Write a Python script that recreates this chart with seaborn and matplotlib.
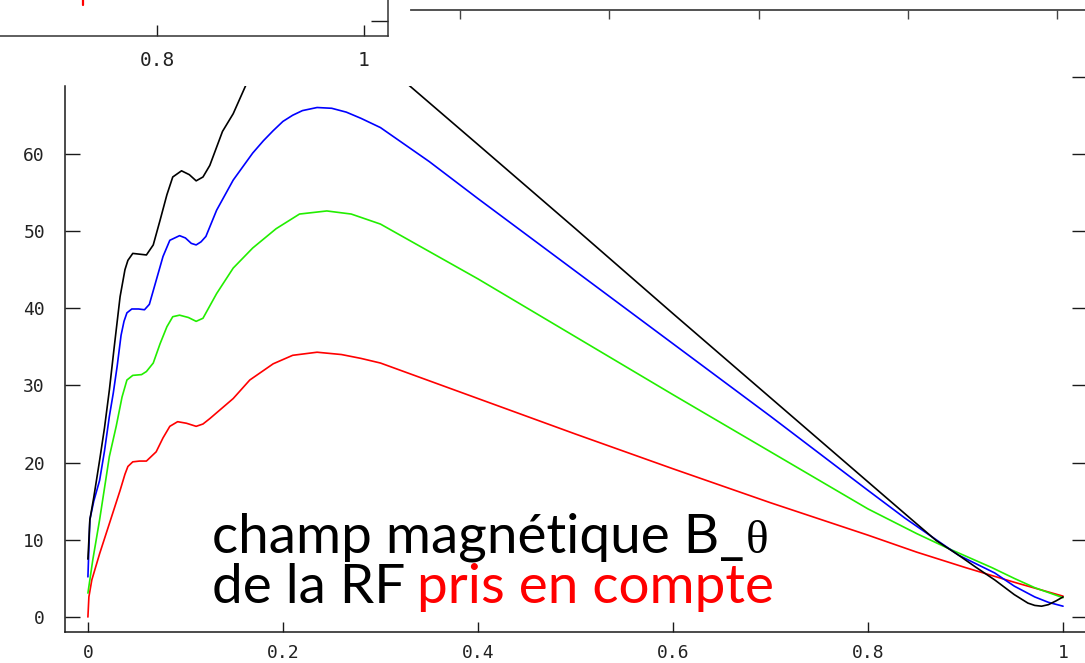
import numpy as np
import pandas as pd
import matplotlib
matplotlib.use("Agg")
import matplotlib.pyplot as plt
import seaborn as sns
from matplotlib.patches import Rectangle
from matplotlib.lines import Line2D

# Normalised radius r and azimuthal field B_theta for four RF cases
r_red = [0.000, 0.001, 0.004, 0.012, 0.022, 0.033, 0.038, 0.041, 0.046, 0.053, 0.060, 0.070,
         0.077, 0.084, 0.092, 0.101, 0.111, 0.118, 0.125, 0.137, 0.149, 0.166, 0.190, 0.210,
         0.235, 0.260, 0.280, 0.300, 0.400, 0.500, 0.600, 0.700, 0.800, 0.850, 0.900, 0.950,
         1.000]
b_red = [0.0, 2.6, 4.8, 8.2, 12.1, 16.4, 18.5, 19.5, 20.1, 20.2, 20.2, 21.4,
         23.2, 24.7, 25.3, 25.1, 24.7, 25.0, 25.7, 27.0, 28.3, 30.7, 32.8, 33.9,
         34.3, 34.0, 33.5, 32.9, 28.3, 23.7, 19.2, 14.8, 10.6, 8.4, 6.4, 4.5,
         2.7]

r_green = [0.000, 0.005, 0.012, 0.022, 0.029, 0.035, 0.040, 0.046, 0.055, 0.060, 0.067, 0.074,
           0.081, 0.087, 0.094, 0.103, 0.111, 0.118, 0.132, 0.149, 0.169, 0.193, 0.217, 0.245,
           0.270, 0.300, 0.400, 0.500, 0.600, 0.700, 0.750, 0.800, 0.850, 0.882, 0.927, 0.950,
           0.971, 1.000]
b_green = [3.1, 7.4, 12.6, 20.8, 24.7, 28.5, 30.7, 31.3, 31.4, 31.8, 32.9, 35.4,
           37.6, 38.9, 39.1, 38.8, 38.3, 38.7, 41.9, 45.2, 47.8, 50.3, 52.2, 52.6,
           52.2, 50.9, 43.8, 36.3, 28.8, 21.4, 17.7, 14.0, 10.8, 8.9, 6.4, 5.0,
           3.8, 2.5]

r_blue = [0.000, 0.002, 0.006, 0.012, 0.017, 0.022, 0.026, 0.030, 0.034, 0.037, 0.040, 0.045,
          0.052, 0.058, 0.063, 0.070, 0.077, 0.084, 0.094, 0.100, 0.106, 0.111, 0.116, 0.121,
          0.132, 0.149, 0.169, 0.180, 0.190, 0.200, 0.210, 0.220, 0.235, 0.250, 0.265, 0.280,
          0.300, 0.350, 0.400, 0.500, 0.600, 0.700, 0.800, 0.838, 0.870, 0.893, 0.930, 0.950,
          0.971, 0.985, 1.000]
b_blue = [5.2, 12.6, 15.0, 17.7, 21.5, 26.0, 29.0, 32.5, 36.5, 38.3, 39.4, 39.9,
          39.9, 39.8, 40.5, 43.6, 46.7, 48.8, 49.4, 49.1, 48.4, 48.2, 48.6, 49.3,
          52.7, 56.6, 60.1, 61.7, 63.0, 64.2, 65.0, 65.6, 66.0, 65.9, 65.4, 64.6,
          63.4, 59.0, 54.2, 44.8, 35.4, 26.0, 16.4, 12.8, 10.0, 8.0, 5.7, 4.0,
          2.6, 1.9, 1.4]

r_black = [0.000, 0.001, 0.002, 0.006, 0.012, 0.017, 0.022, 0.027, 0.033, 0.038, 0.041, 0.046,
           0.053, 0.060, 0.067, 0.074, 0.081, 0.087, 0.096, 0.104, 0.111, 0.118, 0.125, 0.138,
           0.149, 0.162, 0.200, 0.235, 0.270, 0.330, 0.400, 0.500, 0.600, 0.700, 0.800, 0.845,
           0.870, 0.893, 0.910, 0.930, 0.950, 0.964, 0.971, 0.978, 0.985, 0.993, 1.000]
b_black = [7.5, 10.0, 12.6, 15.5, 20.3, 24.5, 29.4, 35.0, 41.5, 45.0, 46.2, 47.1,
           47.0, 46.9, 48.2, 51.4, 54.7, 57.0, 57.8, 57.3, 56.5, 57.0, 58.5, 62.9,
           65.2, 68.9, 74.5, 76.5, 75.2, 68.8, 61.2, 50.3, 39.3, 28.4, 17.5, 12.6,
           9.9, 8.0, 6.5, 4.8, 2.9, 1.8, 1.5, 1.4, 1.6, 2.1, 2.6]

series_names = ["red", "green", "blue", "black"]
series_colors = ["#ff0000", "#22ee00", "#0000ff", "#000000"]

x_ticks = [0, 0.2, 0.4, 0.6, 0.8, 1.0]
x_tick_labels = ["0", "0.2", "0.4", "0.6", "0.8", "1"]
y_ticks = [0, 10, 20, 30, 40, 50, 60]
y_tick_labels = ["0", "10", "20", "30", "40", "50", "60"]
y_ticks_right = [0, 10, 20, 30, 40, 50, 60, 70]

# neighbouring panels (only their edges show)
ul_ticks = [0.8, 1.0]
ul_tick_labels = ["0.8", "1"]
ur_ticks = [0.2, 0.4, 0.6, 0.8, 1.0]

frames = []
for name, rr, bb in zip(series_names,
                        [r_red, r_green, r_blue, r_black],
                        [b_red, b_green, b_blue, b_black]):
    frames.append(pd.DataFrame({"r": rr, "B": bb, "serie": name}))
df = pd.concat(frames, ignore_index=True)

sns.set_theme(style="ticks")
plt.rcParams["font.family"] = ["DejaVu Sans"]

W, H = 1085, 663
fig = plt.figure(figsize=(W / 100, H / 100), dpi=100)
fig.patch.set_facecolor("white")


def px_axes(left, top, right, bottom):
    return fig.add_axes([left / W, 1 - bottom / H, (right - left) / W, (bottom - top) / H])


axis_col = "#1a1a1a"
tick_font = dict(family="DejaVu Sans Mono", size=13, color="#222222")

# ---------- main panel ----------
ax = px_axes(65, 72, 1088, 632)
ax.set_facecolor("none")
sns.lineplot(data=df, x="r", y="B", hue="serie", hue_order=series_names,
             palette=dict(zip(series_names, series_colors)), sort=False,
             estimator=None, legend=False, linewidth=1.2, ax=ax)
ax.set_xlim(-0.0235, 1.0256)
ax.set_ylim(-1.943, 70.6)
top_clip = 68.78
for ln in ax.lines:
    ln.set_clip_path(Rectangle((-0.1, -5), 1.3, top_clip + 5, transform=ax.transData))

ax.set_xlabel("")
ax.set_ylabel("")
ax.set_xticks(x_ticks)
ax.set_xticklabels(x_tick_labels, fontdict=tick_font)
ax.set_yticks(y_ticks)
ax.set_yticklabels(y_tick_labels, fontdict=tick_font)
ax.tick_params(axis="x", direction="in", length=7.2, width=1.0, color=axis_col,
               pad=9.0, bottom=True, top=False)
ax.tick_params(axis="y", direction="in", length=10.8, width=1.0, color=axis_col,
               pad=14.4, left=True, right=False)
ax.spines["top"].set_visible(False)
ax.spines["right"].set_visible(False)
for s in ("left", "bottom"):
    ax.spines[s].set_color(axis_col)
    ax.spines[s].set_linewidth(1.1)
ax.spines["left"].set_bounds(-1.943, top_clip)

ax2 = ax.twinx()
ax2.set_ylim(ax.get_ylim())
ax2.set_yticks(y_ticks_right)
ax2.tick_params(axis="y", direction="in", length=11.5, width=1.0, color=axis_col,
                labelright=False, right=True)
for s in ("top", "left", "bottom"):
    ax2.spines[s].set_visible(False)
ax2.spines["right"].set_color(axis_col)
ax2.grid(False)

# ---------- upper-left panel edge ----------
aul = px_axes(-200, -100, 388, 36)
aul.set_facecolor("none")
aul.set_xlim(0.455, 1.0232)
aul.set_ylim(0, 1)
aul.set_xticks(ul_ticks)
aul.set_xticklabels(ul_tick_labels, fontdict=dict(family="DejaVu Sans Mono", size=14, color="#222222"))
aul.tick_params(axis="x", direction="in", length=7.9, width=1.0, color=axis_col, pad=10.5,
                bottom=True, top=False)
aul.yaxis.tick_right()
aul.set_yticks([0.1125])
aul.tick_params(axis="y", direction="in", length=12.2, width=1.0, color=axis_col,
                labelright=False, right=True, left=False)
aul.spines["top"].set_visible(False)
aul.spines["left"].set_visible(False)
for s in ("right", "bottom"):
    aul.spines[s].set_color("#333333")
    aul.spines[s].set_linewidth(1.1)
aul.grid(False)

# ---------- upper-right panel edge ----------
aur = px_axes(411, 9.5, 1100, 60)
aur.set_facecolor("none")
aur.set_xlim(0.1343, 1.0576)
aur.set_ylim(0, 1)
aur.set_xticks(ur_ticks)
aur.set_yticks([])
aur.xaxis.tick_top()
aur.tick_params(axis="x", direction="in", length=6.5, width=1.0, color="#444444",
                labeltop=False, labelbottom=False, top=True, bottom=False)
for s in ("left", "right", "bottom"):
    aur.spines[s].set_visible(False)
aur.spines["top"].set_color("#444444")
aur.spines["top"].set_linewidth(1.3)
aur.grid(False)

# red stroke left over from the heading of the panel above
fig.add_artist(Line2D([83 / W, 83 / W], [1.0, 1 - 5 / H], color="#ff0000", linewidth=1.6,
                      transform=fig.transFigure))

# ---------- caption ----------
cap_font = dict(family=["Lato", "DejaVu Sans"], fontsize=39.5, fontweight="normal")

t1 = fig.text(212 / W, 1 - 553 / H, "champ magnétique B_", color="black",
              va="baseline", ha="left", **cap_font)
t2 = fig.text(212 / W, 1 - 603 / H, "de la RF", color="black",
              va="baseline", ha="left", **cap_font)
fig.canvas.draw()
bb1 = t1.get_window_extent()
bb2 = t2.get_window_extent()
fig.text((bb1.x1 + 1) / W, 1 - 553 / H, "θ", color="black", va="baseline", ha="left",
         family=["Liberation Serif", "DejaVu Serif"], fontsize=34)
fig.text((bb2.x1 + 12) / W, 1 - 603 / H, "pris en compte", color="#ff0000",
         va="baseline", ha="left", **cap_font)

fig.savefig("out.png", dpi=100, facecolor="white")
